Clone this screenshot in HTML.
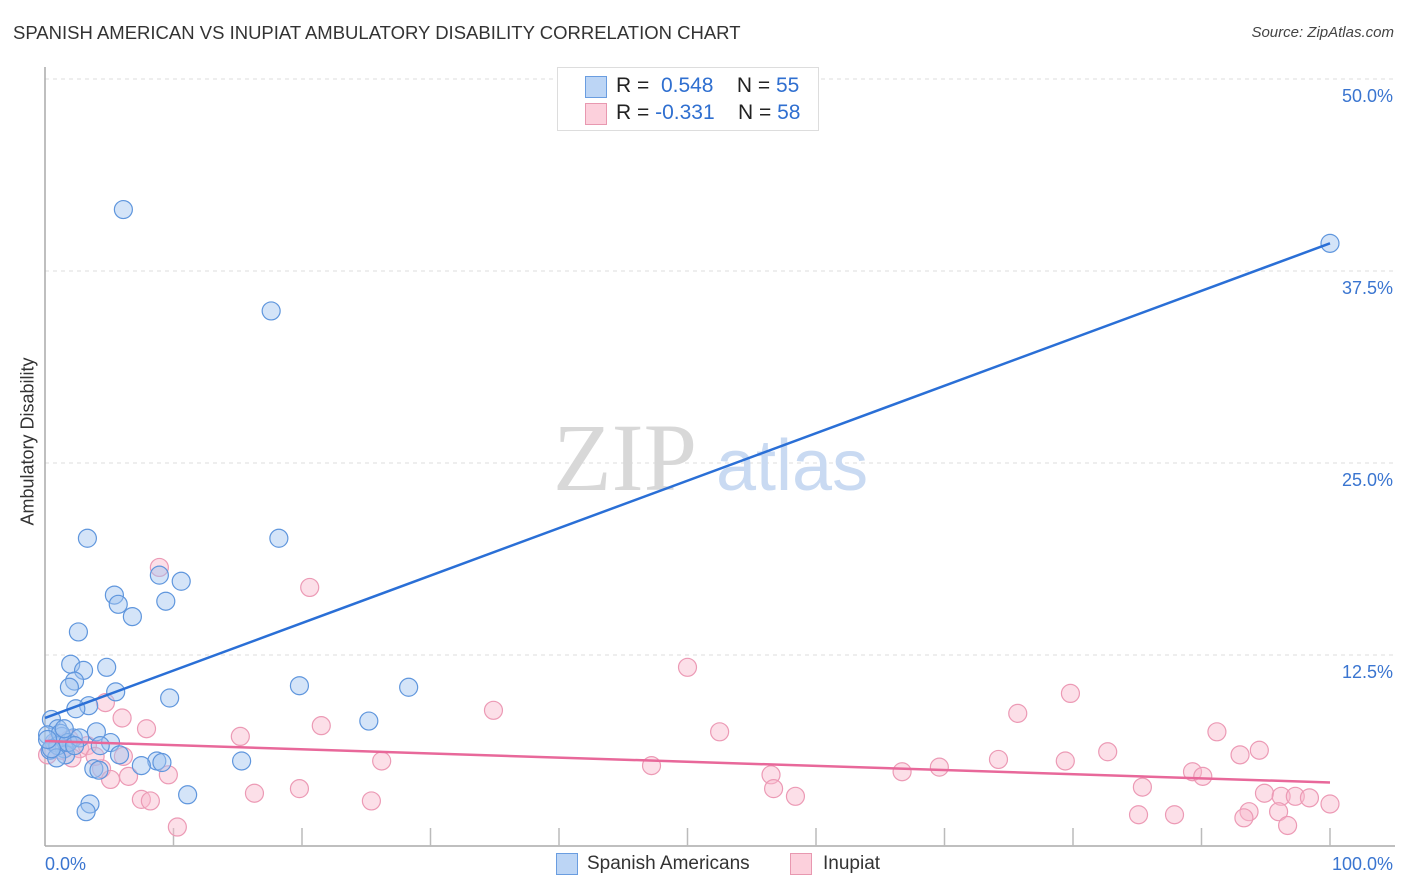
<!DOCTYPE html>
<html><head><meta charset="utf-8">
<style>
body{margin:0;background:#fff;font-family:"Liberation Sans",sans-serif;}
#wrap{position:relative;width:1406px;height:892px;overflow:hidden;}
.t{position:absolute;white-space:nowrap;}
</style></head>
<body>
<div id="wrap">
<div class="t" style="left:13px;top:22px;font-size:18.5px;color:#333;">SPANISH AMERICAN VS INUPIAT AMBULATORY DISABILITY CORRELATION CHART</div>
<div class="t" style="right:12px;top:24px;font-size:15px;color:#444;font-style:italic;">Source: ZipAtlas.com</div>
<div class="t" style="left:-42px;top:445px;font-size:18px;color:#333;transform:rotate(-90deg);width:140px;text-align:center;">Ambulatory Disability</div>
<svg id="plot" width="1406" height="892" style="position:absolute;left:0;top:0"></svg>
<div style="position:absolute;left:557px;top:67px;width:260px;height:62px;border:1px solid #ddd;background:#fff;font-size:21px;">
 <div style="position:absolute;left:27px;top:8px;width:20px;height:20px;background:#bcd5f5;border:1px solid #6a9de0;"></div>
 <div class="t" style="left:58px;top:6px;color:#222;">R =&nbsp; <span style="color:#2f6fd0">0.548</span>&nbsp;&nbsp;&nbsp; N = <span style="color:#2f6fd0">55</span></div>
 <div style="position:absolute;left:27px;top:35px;width:20px;height:20px;background:#fcd0dc;border:1px solid #e898b0;"></div>
 <div class="t" style="left:58px;top:33px;color:#222;">R = <span style="color:#2f6fd0">-0.331</span>&nbsp;&nbsp;&nbsp; N = <span style="color:#2f6fd0">58</span></div>
</div>
<div style="position:absolute;left:556px;top:853px;">
 <div style="position:absolute;left:0;top:0;width:20px;height:20px;background:#bcd5f5;border:1px solid #6a9de0;"></div>
 <div class="t" style="left:31px;top:0px;font-size:19px;color:#333;">Spanish Americans</div>
</div>
<div style="position:absolute;left:790px;top:853px;">
 <div style="position:absolute;left:0;top:0;width:20px;height:20px;background:#fcd0dc;border:1px solid #e898b0;"></div>
 <div class="t" style="left:33px;top:0px;font-size:19px;color:#333;">Inupiat</div>
</div>
</div>
<script>
const yTicks=[12.5,25,37.5,50];
const yTickLabels=["12.5%","25.0%","37.5%","50.0%"];
const xTicks=[10,20,30,40,50,60,70,80,90,100];
const blueX=[6.1,17.6,100,18.2,3.3,8.9,10.6,5.4,5.7,9.4,6.8,2.6,2.0,4.8,3.0,2.3,1.9,19.8,28.3,5.5,9.7,3.4,2.4,0.5,25.2,1.0,4.0,1.3,5.1,2.2,4.3,0.7,1.5,1.6,5.8,8.7,15.3,9.1,7.5,3.8,11.1,3.5,3.2,0.2,0.4,1.0,1.2,1.8,2.7,0.9,1.5,4.2,0.5,2.3,0.2];
const blueY=[41.5,34.9,39.3,20.1,20.1,17.7,17.3,16.4,15.8,16.0,15.0,14.0,11.9,11.7,11.5,10.8,10.4,10.5,10.4,10.1,9.7,9.2,9.0,8.3,8.2,7.7,7.5,7.2,6.8,7.1,6.6,6.8,6.4,6.0,6.0,5.6,5.6,5.5,5.3,5.1,3.4,2.8,2.3,7.3,6.3,6.6,7.4,6.8,7.1,5.8,7.7,5.0,6.4,6.6,7.0];
const pinkX=[8.9,20.6,50.0,79.8,34.9,75.7,4.7,6.0,7.9,21.5,52.5,91.2,15.2,94.5,93.0,82.7,74.2,26.2,47.2,69.6,66.7,79.4,89.3,90.1,56.5,6.1,4.4,5.1,6.5,9.6,56.7,85.4,19.8,16.3,58.4,7.5,8.2,25.4,94.9,96.2,97.3,98.4,100,93.7,96.0,85.1,87.9,93.3,96.7,10.3,2.7,3.3,1.3,0.2,1.9,0.9,3.9,2.1];
const pinkY=[18.2,16.9,11.7,10.0,8.9,8.7,9.4,8.4,7.7,7.9,7.5,7.5,7.2,6.3,6.0,6.2,5.7,5.6,5.3,5.2,4.9,5.6,4.9,4.6,4.7,5.9,5.1,4.4,4.6,4.7,3.8,3.9,3.8,3.5,3.3,3.1,3.0,3.0,3.5,3.3,3.3,3.2,2.8,2.3,2.3,2.1,2.1,1.9,1.4,1.3,6.4,6.6,6.3,6.0,7.0,6.8,5.9,5.8];
const blueTrend=[8.4,39.3];
const pinkTrend=[6.9,4.2];

const svg=document.getElementById('plot');
const NS='http://www.w3.org/2000/svg';
const X0=45,X1=1330,Y0=847,PXPER=192/12.5;
const sx=v=>X0+(X1-X0)*v/100;
const sy=v=>Y0-v*PXPER;
function mk(tag,attrs){const e=document.createElementNS(NS,tag);for(const k in attrs)e.setAttribute(k,attrs[k]);svg.appendChild(e);return e;}
yTicks.forEach((t,i)=>{
 const g=mk('line',{x1:45,x2:1395,y1:sy(t),y2:sy(t),stroke:'#ddd','stroke-dasharray':'4,4'});
 
 
 const tx=mk('text',{x:1393,y:sy(t)+23,'text-anchor':'end','font-size':18,fill:'#3a75d0','font-family':'Liberation Sans, sans-serif'});
 tx.textContent=yTickLabels[i];
 
 
});
const wm=mk('text',{x:553,y:490,'font-size':96,fill:'#d8d8d8','font-family':'Liberation Serif, serif'});wm.textContent='ZIP';


const wm2=mk('text',{x:716,y:490,'font-size':72,fill:'#c9daf2','font-family':'Liberation Sans, sans-serif'});wm2.textContent='atlas';


const ax=mk('line',{x1:45,x2:45,y1:67,y2:846,stroke:'#aaa','stroke-width':1.5});


const bx=mk('line',{x1:45,x2:1395,y1:846,y2:846,stroke:'#aaa','stroke-width':1.5});


xTicks.forEach(t=>{const l=mk('line',{x1:sx(t),x2:sx(t),y1:828,y2:846,stroke:'#bbb','stroke-width':1.5});
 
 });
const xl0=mk('text',{x:45,y:870,'font-size':18,fill:'#3a75d0','font-family':'Liberation Sans, sans-serif'});xl0.textContent='0.0%';


const xl1=mk('text',{x:1393,y:870,'text-anchor':'end','font-size':18,fill:'#3a75d0','font-family':'Liberation Sans, sans-serif'});xl1.textContent='100.0%';


pinkX.forEach((x,i)=>{const c=mk('circle',{cx:sx(x),cy:sy(pinkY[i]),r:9,fill:'rgba(248,185,205,0.45)',stroke:'#ec9ab5','stroke-width':1.2});
 
 });
blueX.forEach((x,i)=>{const c=mk('circle',{cx:sx(x),cy:sy(blueY[i]),r:9,fill:'rgba(160,195,240,0.45)',stroke:'#5f96dd','stroke-width':1.2});
 
 });
const bt=mk('line',{x1:sx(0),y1:sy(blueTrend[0]),x2:sx(100),y2:sy(blueTrend[1]),stroke:'#2a6fd6','stroke-width':2.5});


const pt=mk('line',{x1:sx(0),y1:sy(pinkTrend[0]),x2:sx(100),y2:sy(pinkTrend[1]),stroke:'#e8689a','stroke-width':2.5});


</script>
</body></html>
